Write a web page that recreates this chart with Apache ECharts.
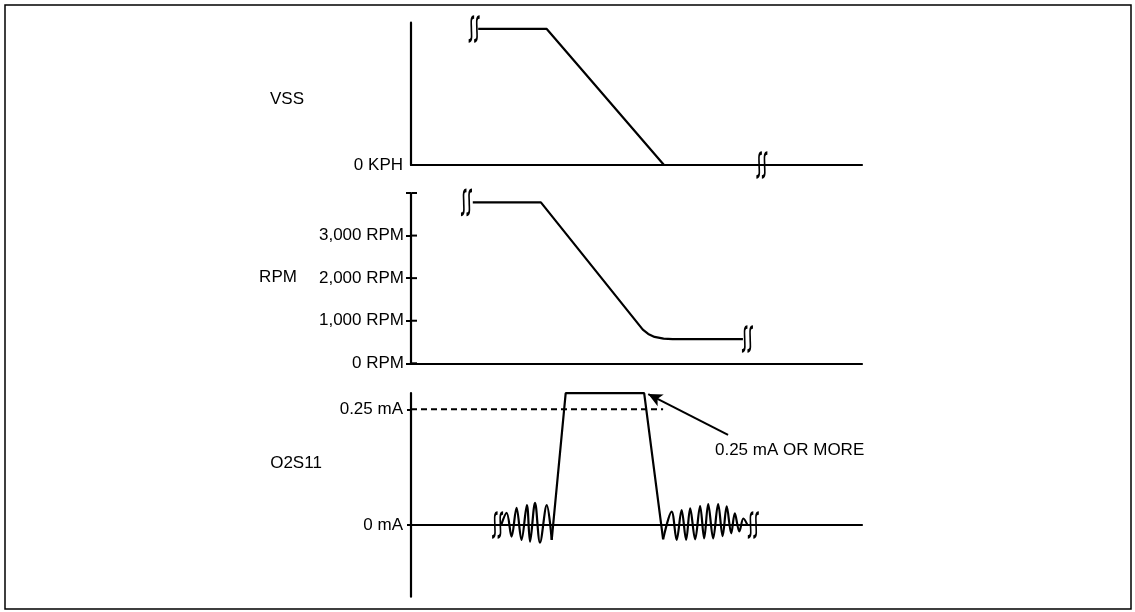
<!DOCTYPE html>
<html><head><meta charset="utf-8">
<script src="https://cdn.jsdelivr.net/npm/echarts@6/dist/echarts.min.js"></script>
<style>html,body{margin:0;padding:0;background:#fff}#c{width:1135px;height:612px}</style>
</head><body><div id="c"></div>
<script>
// Time runs on an arbitrary 0..100 scale, shared by the three panels
// ---- VSS panel ----
const vssX = [14.9, 30.1, 56.1];
const vssY = [95.6, 95.6, 0];
const vssBreakX = [14.0, 77.8];
const vssBreakY = [95.6, 0];
const vssTickLabels = ['0 KPH'];

// ---- RPM panel ----
const rpmX = [13.7, 28.8, 51.4, 52.6, 54.0, 56.0, 58.0, 73.6];
const rpmY = [3780, 3780, 790, 690, 620, 580, 570, 570];
const rpmBreakX = [12.3, 74.6];
const rpmBreakY = [3780, 570];
const rpmTickValues = [0, 1000, 2000, 3000, 4000];
const rpmTickLabels = ['0 RPM', '1,000 RPM', '2,000 RPM', '3,000 RPM', ''];

// ---- O2S11 panel ----
const o2LeftX = [20.0, 21.2, 22.3, 23.4, 24.5, 25.7, 26.4, 27.5, 28.6, 30.1, 31.2];
const o2LeftY = [0.0, 0.026, -0.025, 0.037, -0.032, 0.043, -0.036, 0.048, -0.038, 0.043, -0.032];
const o2PulseX = [31.2, 34.3, 51.7, 55.9];
const o2PulseY = [-0.032, 0.285, 0.285, -0.031];
const o2RightX = [55.9, 57.8, 58.9, 60.0, 61.0, 61.9, 63.0, 64.1, 65.0, 65.9, 67.0, 68.1, 69.1, 70.0, 71.0, 71.8, 72.8, 73.7, 74.6];
const o2RightY = [-0.031, 0.029, -0.032, 0.032, -0.032, 0.036, -0.031, 0.041, -0.029, 0.045, -0.029, 0.045, -0.024, 0.040, -0.018, 0.025, -0.014, 0.014, 0.0];
const o2BreakX = [19.2, 75.9];
const o2BreakY = [0, 0];
const o2ThresholdX = [0, 55.9];
const o2ThresholdY = [0.25, 0.25];
const o2TickValues = [0, 0.25];
const o2TickLabels = ['0 mA', '0.25 mA'];
const arrowTail = [70.3, 0.1945];
const arrowTip = [52.6, 0.283];
const noteText = '0.25 mA OR MORE';
const notePos = [67.4, 0.1606];

const panelTitles = ['VSS', 'RPM', 'O2S11'];

const zip = (xs, ys) => xs.map((x, i) => [x, ys[i]]);
const FONT = '"Liberation Sans", Arial, Helvetica, sans-serif';
const BLACK = '#000';
const LW = 2.2;
const breakSymbol = 'path://M5,0C2,0 3,5 3,10C3,15 4,20 1,20M9,0C6,0 7,5 7,10C7,15 8,20 5,20';

const chart = echarts.init(document.getElementById('c'), null, {renderer: 'canvas'});

const gridW = 451;
const grids = [
  {left: 411, top: 22.7, width: gridW, height: 142.3},
  {left: 411, top: 193, width: gridW, height: 170.3},
  {left: 411, top: 393.1, width: gridW, height: 203.6}
];

function xAx(i) {
  return {
    type: 'value', gridIndex: i, min: 0, max: 100,
    axisLine: {show: true, onZero: true, lineStyle: {color: BLACK, width: LW}},
    axisTick: {show: false}, axisLabel: {show: false}, splitLine: {show: false}
  };
}
const labelStyle = {color: BLACK, fontSize: 17, fontFamily: FONT};

function breakSeries(xi, yi, xs, ys) {
  return {
    type: 'scatter', xAxisIndex: xi, yAxisIndex: yi,
    data: zip(xs, ys), symbol: breakSymbol, symbolSize: [11, 24],
    itemStyle: {color: 'rgba(0,0,0,0)', borderColor: BLACK, borderWidth: 2.4, opacity: 1},
    silent: true, z: 5
  };
}
function lineSeries(xi, yi, xs, ys, extra) {
  return Object.assign({
    type: 'line', xAxisIndex: xi, yAxisIndex: yi, data: zip(xs, ys),
    showSymbol: false, lineStyle: {color: BLACK, width: LW}, silent: true, z: 4
  }, extra || {});
}

const option = {
  animation: false,
  backgroundColor: '#fff',
  textStyle: {fontFamily: FONT},
  grid: grids,
  xAxis: [xAx(0), xAx(1), xAx(2)],
  yAxis: [
    { // VSS
      type: 'value', gridIndex: 0, min: 0, max: 100, position: 'left',
      axisLine: {show: true, lineStyle: {color: BLACK, width: LW}},
      axisTick: {show: false}, splitLine: {show: false},
      axisLabel: Object.assign({customValues: [0], margin: 8,
        formatter: (v) => vssTickLabels[0]}, labelStyle)
    },
    { // RPM
      type: 'value', gridIndex: 1, min: 0, max: 4000, interval: 1000, position: 'left',
      axisLine: {show: true, lineStyle: {color: BLACK, width: LW}},
      axisTick: {show: true, length: 5, lineStyle: {color: BLACK, width: 2}},
      splitLine: {show: false},
      axisLabel: Object.assign({margin: 7, showMaxLabel: true,
        formatter: (v) => rpmTickLabels[rpmTickValues.indexOf(v)]}, labelStyle)
    },
    { // O2S11
      type: 'value', gridIndex: 2, min: -0.155, max: 0.285, position: 'left',
      axisLine: {show: true, lineStyle: {color: BLACK, width: LW}},
      axisTick: {show: true, length: 4, customValues: o2TickValues, lineStyle: {color: BLACK, width: 2}},
      splitLine: {show: false},
      axisLabel: Object.assign({customValues: o2TickValues, margin: 8,
        formatter: (v) => o2TickLabels[o2TickValues.indexOf(v)]}, labelStyle)
    }
  ],
  series: [
    lineSeries(0, 0, vssX, vssY),
    breakSeries(0, 0, vssBreakX, vssBreakY),
    lineSeries(1, 1, rpmX, rpmY),
    breakSeries(1, 1, rpmBreakX, rpmBreakY),
    { // inner half of the "+" shaped RPM ticks
      type: 'scatter', xAxisIndex: 1, yAxisIndex: 1, silent: true, z: 6,
      data: rpmTickValues.map(v => [0, v]),
      symbol: 'rect', symbolSize: [5, 2], symbolOffset: [3.5, 0],
      itemStyle: {color: BLACK, opacity: 1}
    },
    lineSeries(2, 2, o2LeftX, o2LeftY, {smooth: 0.35}),
    lineSeries(2, 2, o2PulseX, o2PulseY),
    lineSeries(2, 2, o2RightX, o2RightY, {smooth: 0.35}),
    breakSeries(2, 2, o2BreakX, o2BreakY),
    lineSeries(2, 2, o2ThresholdX, o2ThresholdY, {
      lineStyle: {color: BLACK, width: 2, type: [6, 4]}, z: 3,
      markLine: {
        silent: true, symbol: ['none', 'arrow'], symbolSize: [10, 14],
        label: {show: false},
        lineStyle: {color: BLACK, width: 2, type: 'solid'},
        itemStyle: {color: BLACK},
        data: [[{coord: arrowTail}, {coord: arrowTip}]]
      }
    }),
    {
      type: 'scatter', xAxisIndex: 2, yAxisIndex: 2, symbolSize: 0,
      data: [notePos], silent: true,
      itemStyle: {opacity: 1, color: BLACK},
      label: Object.assign({show: true, position: 'right', distance: 0, opacity: 1,
        formatter: () => noteText}, labelStyle)
    }
  ],
  graphic: [
    {type: 'rect', shape: {x: 5, y: 5, width: 1126, height: 604},
     style: {fill: 'none', stroke: BLACK, lineWidth: 1.5}, silent: true},
    {type: 'text', x: 287, y: 99, style: {text: panelTitles[0], font: '17px ' + FONT, fill: BLACK, textAlign: 'center', textVerticalAlign: 'middle'}},
    {type: 'text', x: 278, y: 277, style: {text: panelTitles[1], font: '17px ' + FONT, fill: BLACK, textAlign: 'center', textVerticalAlign: 'middle'}},
    {type: 'text', x: 296, y: 463, style: {text: panelTitles[2], font: '17px ' + FONT, fill: BLACK, textAlign: 'center', textVerticalAlign: 'middle'}}
  ]
};
chart.setOption(option);
</script></body></html>
